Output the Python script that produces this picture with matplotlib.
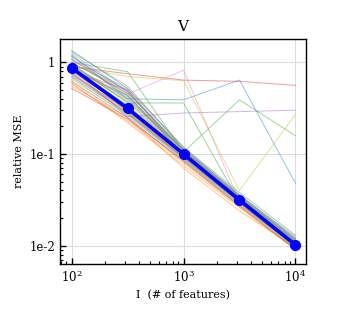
import numpy as np
import matplotlib
matplotlib.use('Agg')
import matplotlib.pyplot as plt
from matplotlib.ticker import FixedLocator, FixedFormatter, LogLocator, NullFormatter

plt.rcParams['font.family'] = 'DejaVu Serif'
plt.rcParams['mathtext.fontset'] = 'dejavuserif'

# number of features
n_features = [100, 316, 1000, 3162, 10000]
# averaged relative MSE
mean_mse = [0.87, 0.315, 0.100, 0.0315, 0.0102]

# individual runs (values at each n_features)
runs = [
    [0.95, 0.40, 0.39, 0.64, 0.048],
    [0.55, 0.25, 0.070, 0.024, 0.0095],
    [1.00, 0.79, 0.105, 0.39, 0.158],
    [0.90, 0.75, 0.64, 0.62, 0.56],
    [0.85, 0.255, 0.28, 0.29, 0.30],
    [0.80, 0.50, 0.095, 0.030, 0.0105],
    [1.10, 0.45, 0.82, 0.030, 0.011],
    [0.75, 0.30, 0.100, 0.031, 0.0098],
    [0.90, 0.70, 0.63, 0.040, 0.27],
    [0.85, 0.42, 0.100, 0.033, 0.011],
    [1.20, 0.40, 0.110, 0.034, 0.0115],
    [0.60, 0.22, 0.075, 0.026, 0.0090],
    [0.95, 0.36, 0.36, 0.030, 0.011],
    [0.52, 0.24, 0.085, 0.028, 0.0098],
    [1.30, 0.55, 0.115, 0.036, 0.0120],
    [0.70, 0.28, 0.090, 0.029, 0.0100],
    [1.05, 0.52, 0.120, 0.035, 0.0125],
    [0.78, 0.27, 0.092, 0.030, 0.0097],
    [0.92, 0.38, 0.105, 0.033, 0.0108],
    [0.68, 0.26, 0.088, 0.029, 0.0094],
    [1.15, 0.48, 0.108, 0.034, 0.0112],
    [0.58, 0.23, 0.080, 0.027, 0.0092],
    [1.35, 0.52, 0.118, 0.038, 0.0130],
    [0.82, 0.44, 0.098, 0.031, 0.0101],
    [0.88, 0.29, 0.093, 0.032, 0.0104],
    [1.00, 0.46, 0.112, 0.035, 0.0118],
    [0.72, 0.31, 0.096, 0.030, 0.0099],
    [0.98, 0.50, 0.102, 0.033, 0.0107],
    [0.65, 0.27, 0.086, 0.028, 0.0093],
    [1.25, 0.48, 0.113, 0.036, 0.0122],
    [0.86, 0.34, 0.104, 0.032, 0.0103],
    [0.76, 0.29, 0.094, 0.031, 0.0100],
    [1.08, 0.43, 0.109, 0.034, 0.0114],
    [0.62, 0.25, 0.083, 0.027, 0.0091],
    [0.93, 0.37, 0.101, 0.033, 0.0106],
    [0.80, 0.32, 0.097, 0.032, 0.0102],
    [1.18, 0.47, 0.111, 0.035, 0.0117],
    [0.74, 0.28, 0.091, 0.030, 0.0096],
    [0.96, 0.39, 0.106, 0.034, 0.0110],
    [0.84, 0.31, 0.099, 0.031, 0.0101],
]

fig = plt.figure(figsize=(3.44, 3.31), dpi=100)
ax = fig.add_axes([0.174, 0.2024, 0.716, 0.6783])

for r in runs:
    ax.plot(n_features, r, lw=0.7, alpha=0.45)
ax.plot(n_features, mean_mse, color='#0000ff', lw=2.6, marker='o', markersize=7, zorder=10)

ax.set_xscale('log')
ax.set_yscale('log')
ax.set_xlim(10**1.895, 10**4.096)
ax.set_ylim(10**-2.2, 10**0.249)

ax.yaxis.set_major_locator(FixedLocator([0.01, 0.1, 1]))
ax.yaxis.set_major_formatter(FixedFormatter(['1e-2', '1e-1', '1']))
ax.yaxis.set_minor_locator(LogLocator(base=10, subs=np.arange(2, 10)))
ax.yaxis.set_minor_formatter(NullFormatter())

ax.grid(True, which='major', color='#dddddd', lw=0.8)
ax.tick_params(which='both', direction='in', top=False, right=False, labelsize=8.5)
ax.tick_params(which='major', length=4, width=1)
ax.tick_params(which='minor', length=2, width=0.8)
for s in ax.spines.values():
    s.set_linewidth(1.0)

ax.set_title('V', fontsize=11)
ax.set_xlabel('I  (# of features)', fontsize=8)
ax.set_ylabel('relative MSE', fontsize=8)

fig.savefig('out.png', dpi=100)
